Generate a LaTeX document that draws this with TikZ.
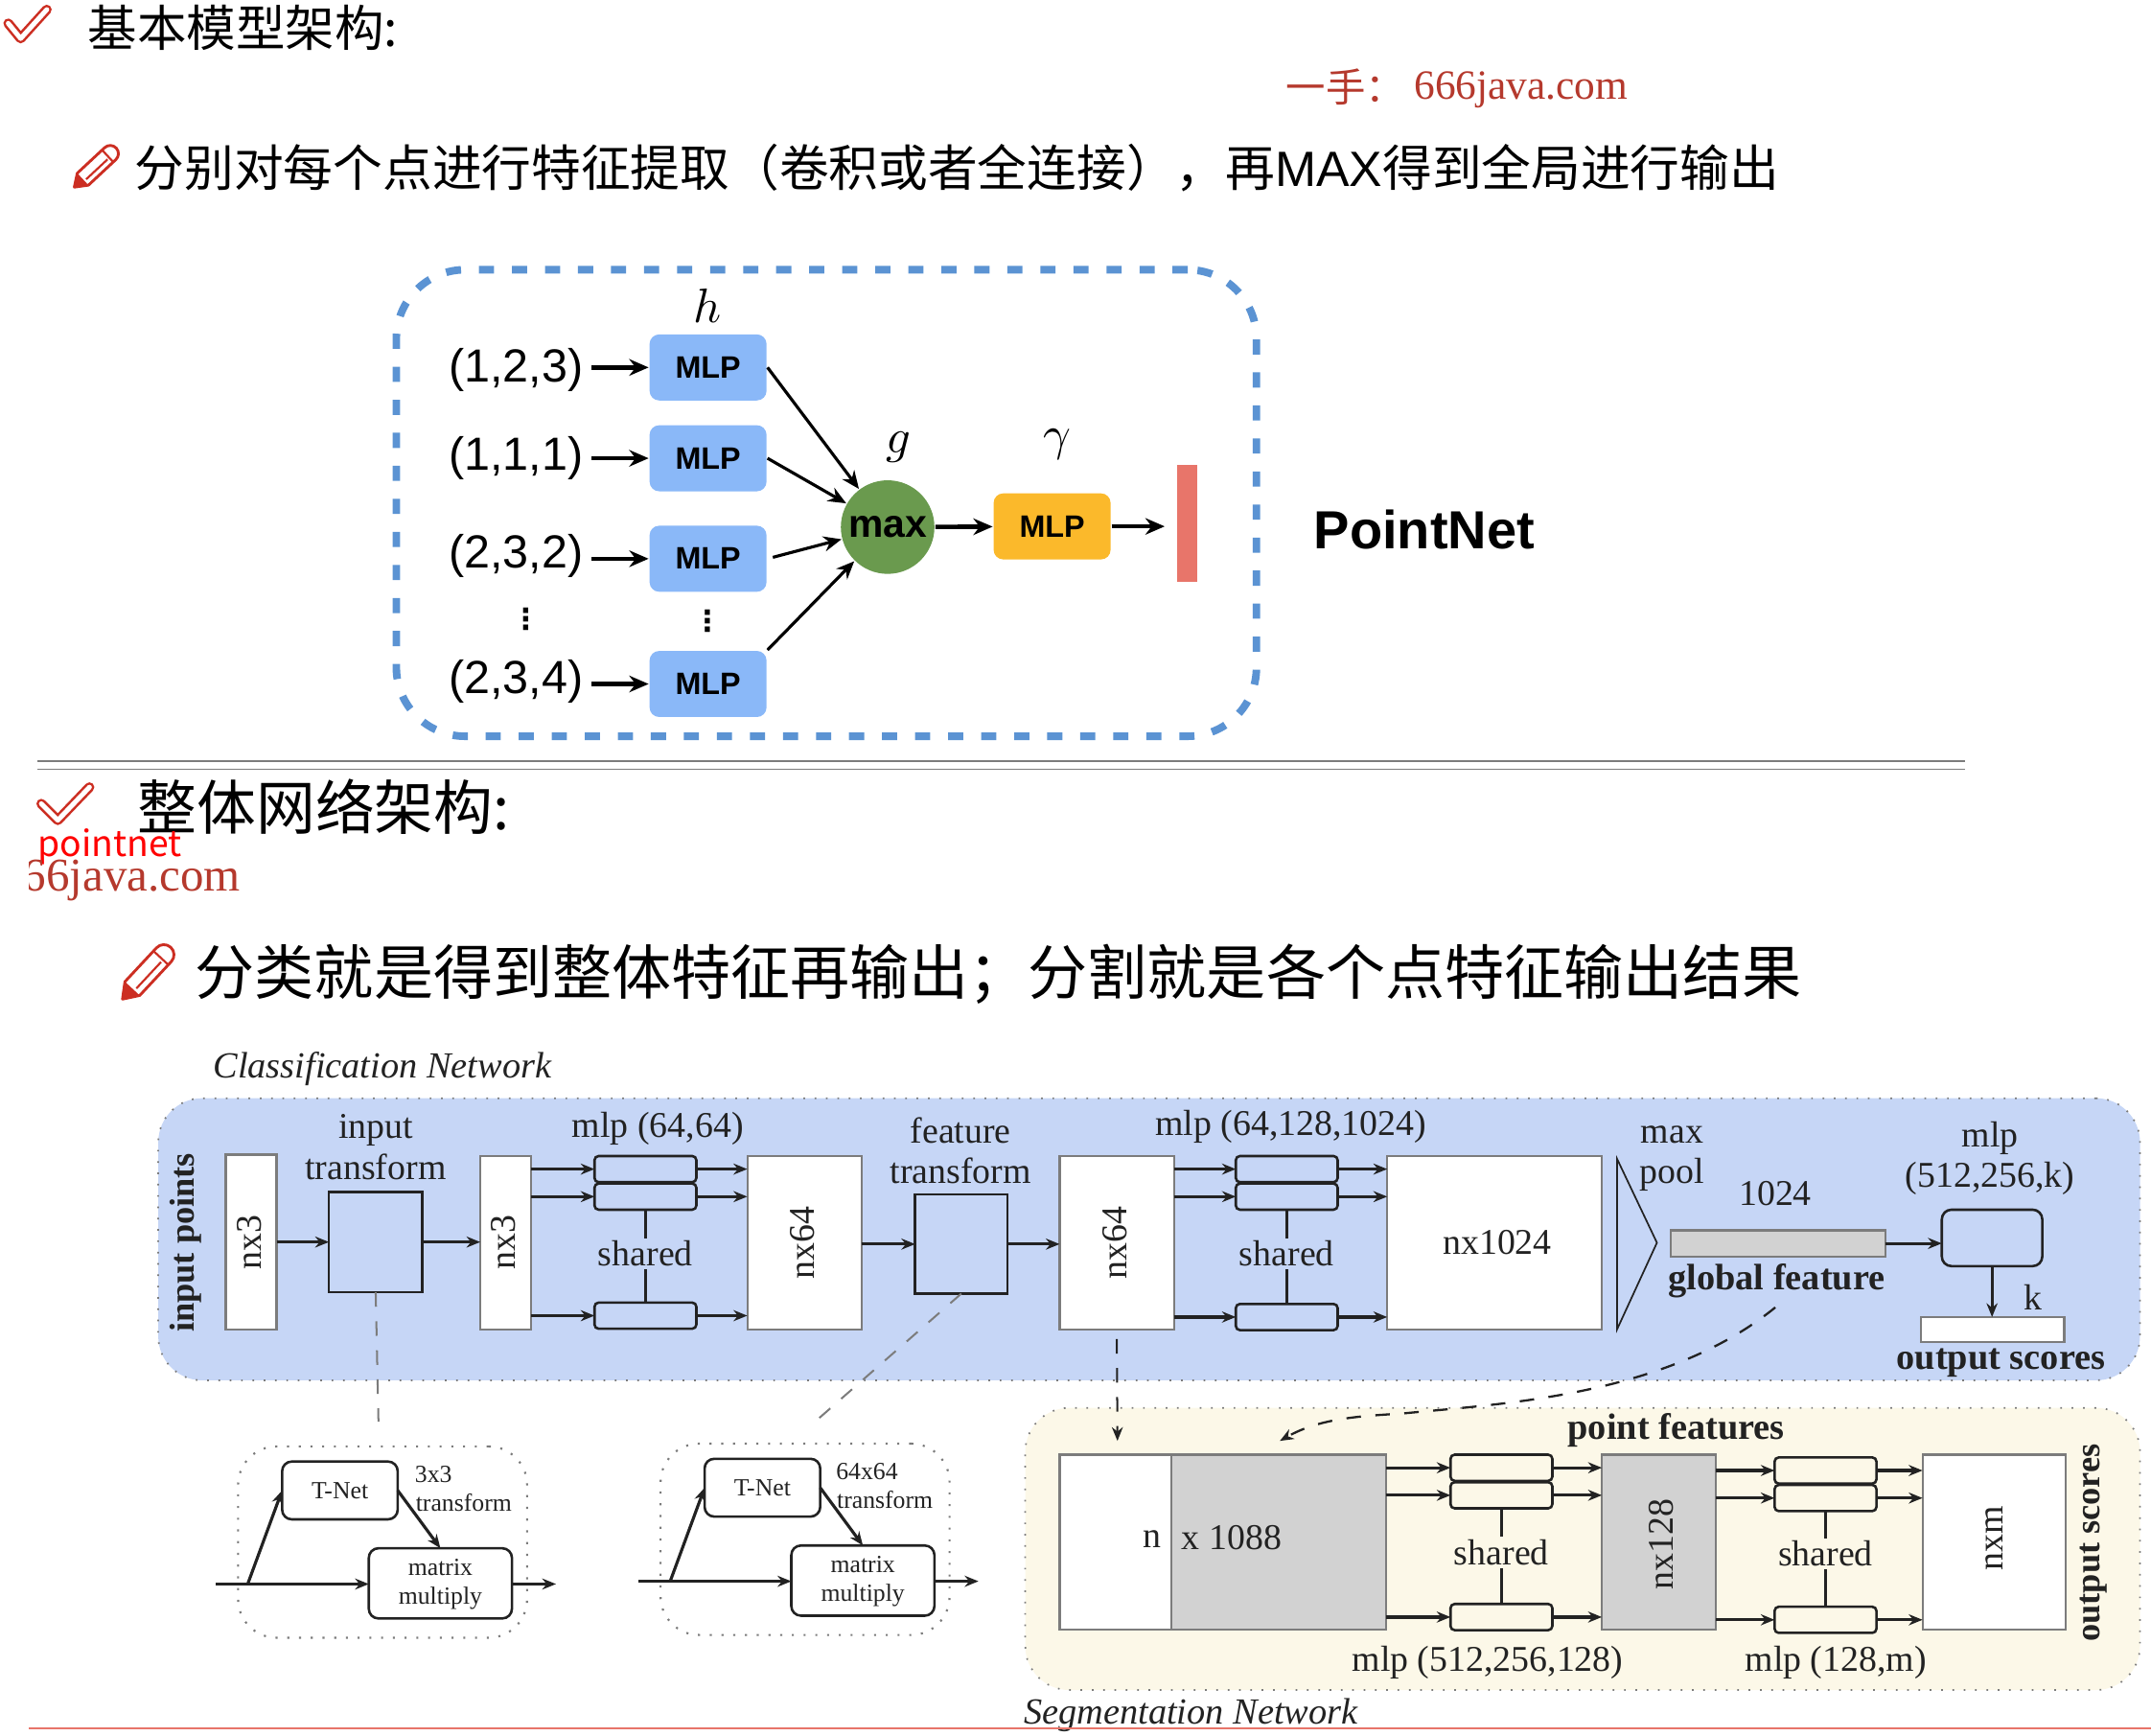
\documentclass[tikz,border=0pt]{standalone}
\usepackage{fontspec}
\usepackage{amsmath}
\setmainfont{Liberation Serif}
\setsansfont{Liberation Sans}
\newfontfamily\cjk{Noto Sans CJK SC}
\newfontfamily\symf{DejaVu Sans}
\usetikzlibrary{arrows.meta}
\definecolor{framecol}{HTML}{5B93D3}
\definecolor{mlpblue}{HTML}{8AB8F8}
\definecolor{mlpyellow}{HTML}{FBB92B}
\definecolor{maxgreen}{HTML}{6A9A4E}
\definecolor{barred}{HTML}{E8756A}
\definecolor{panelblue}{HTML}{C6D6F6}
\definecolor{panelcream}{HTML}{FCF8E8}
\definecolor{boxgray}{HTML}{D2D2D2}
\definecolor{edgegray}{HTML}{7C7C7C}
\definecolor{inkdark}{HTML}{222222}
\definecolor{iconred}{HTML}{CC2E22}
\definecolor{markred}{HTML}{B5392D}
\tikzset{
  sz/.style 2 args={minimum width=#1cm,minimum height=#2cm},
  txt/.style={inner sep=0,outer sep=0,text=inkdark,align=center,font=\fontsize{7.5}{8.4}\selectfont},
  boldtxt/.style={txt,font=\fontsize{7.6}{9}\selectfont\bfseries},
  sidetxt/.style={txt,rotate=90,font=\fontsize{7.2}{9}\selectfont\bfseries},
  tiny/.style={txt,font=\fontsize{5.1}{6}\selectfont},
  title/.style={inner sep=0,outer sep=0,anchor=west,text=black,font=\fontsize{#1}{#1}\selectfont\cjk},
  mlpbox/.style={draw=none,fill=mlpblue,rounded corners=0.07cm,inner sep=0,sz={0.85}{0.48},font=\fontsize{6.4}{7}\selectfont\sffamily\bfseries},
  tup/.style={inner sep=0,outer sep=0,font=\fontsize{9.6}{11}\selectfont\sffamily},
  vdot/.style={inner sep=0,font=\fontsize{6}{7}\selectfont\symf\bfseries},
  big/.style={-{Stealth[length=0.14cm,width=0.12cm]},line width=0.032cm,black},
  thin big/.style={-{Stealth[length=0.13cm,width=0.11cm]},line width=0.022cm,black},
  flow/.style={-{Stealth[length=0.1cm,width=0.08cm]},line width=0.022cm,inkdark},
  wbox/.style={draw=edgegray,fill=white,line width=0.015cm,inner sep=0,outer sep=0},
  gbox/.style={wbox,fill=boxgray},
  dbox/.style={draw=inkdark,line width=0.018cm,inner sep=0,outer sep=0},
  smbox/.style={dbox,rounded corners=0.03cm,sz={0.74}{0.19}},
  rbox/.style={dbox,rounded corners=0.07cm,fill=white},
  panel/.style={draw=edgegray,dotted,line width=0.012cm,inner sep=0,outer sep=0,rounded corners=0.32cm},
  link/.style={draw=edgegray,dashed,line width=0.014cm},
  bar line/.style={inkdark,line width=0.024cm},
  tickmark/.style={draw=iconred,double=white,line width=0.018cm,double distance=0.035cm,line join=round,line cap=round},
  pics/pencil/.style={code={
    \draw[iconred,fill=white,line width=0.02cm,line join=round] (0.1,-0.07) -- (0.42,-0.07) arc (-90:90:0.07) -- (0.1,0.07) -- (0,0) -- cycle;
    \draw[iconred,line width=0.015cm] (0.12,0.02) -- (0.37,0.02) (0.39,-0.07) -- (0.39,0.07);
    \fill[iconred] (0,0) -- (0.1,-0.07) -- (0.1,0.07) -- cycle;
  }},
}
\begin{document}
\begin{tikzpicture}[x=1cm,y=-1cm]
\useasboundingbox (0,0) rectangle (15.63,12.613);
% headings
\draw[tickmark] (0.06,0.17) -- (0.15,0.28) -- (0.34,0.07);
\node[title=10.2] (heada) at (0.64,0.2) {基本模型架构:};
\node[inner sep=0,anchor=west,text=markred,font=\fontsize{8.2}{9}\selectfont\cjk] (marka) at (9.34,0.63) {一手：};
\node[inner sep=0,anchor=west,text=markred,font=\fontsize{8.6}{10}\selectfont] (markb) at (10.27,0.65) {666java.com};
\pic[rotate=43,scale=0.85] at (0.54,1.36) {pencil};
\node[title=10.25] (headb) at (0.98,1.22) {分别对每个点进行特征提取（卷积或者全连接），再{\sffamily MAX}得到全局进行输出};
% PointNet block
\node[draw=framecol,dash pattern=on 0.11cm off 0.13cm,line width=0.055cm,rounded corners=0.5cm,inner sep=0,sz={6.25}{3.39}] (frame) at (6.005,3.655) {};
\node[mlpbox] (mlpa) at (5.145,2.67) {MLP};
\node[mlpbox] (mlpb) at (5.145,3.33) {MLP};
\node[mlpbox] (mlpc) at (5.145,4.06) {MLP};
\node[mlpbox] (mlpd) at (5.145,4.97) {MLP};
\node[tup] (ptsa) at (3.75,2.69) {(1,2,3)};
\node[tup] (ptsb) at (3.75,3.33) {(1,1,1)};
\node[tup] (ptsc) at (3.75,4.04) {(2,3,2)};
\node[tup] (ptsd) at (3.75,4.95) {(2,3,4)};
\node[vdot] (dotsa) at (3.82,4.5) {⋮};
\node[vdot] (dotsb) at (5.14,4.51) {⋮};
\node[inner sep=0,font=\fontsize{10}{11}\selectfont] (labh) at (5.14,2.22) {$h$};
\node[inner sep=0,font=\fontsize{10}{11}\selectfont] (labg) at (6.53,3.25) {$g$};
\node[inner sep=0,font=\fontsize{10}{11}\selectfont] (labc) at (7.68,3.23) {$\gamma$};
\node[circle,fill=maxgreen,inner sep=0,minimum size=0.68cm,font=\fontsize{8.1}{9}\selectfont\sffamily\bfseries] (maxn) at (6.45,3.83) {max};
\node[mlpbox,fill=mlpyellow] (mlpy) at (7.645,3.825) {MLP};
\node[fill=barred,inner sep=0,sz={0.15}{0.85}] (bar) at (8.625,3.805) {};
\node[inner sep=0,anchor=west,font=\fontsize{11.1}{13}\selectfont\sffamily\bfseries] (pnet) at (9.54,3.85) {PointNet};
\draw[big,shorten <=0.06cm] (ptsa.east |- mlpa.west) -- (mlpa.west);
\draw[big,shorten <=0.06cm] (ptsb.east |- mlpb.west) -- (mlpb.west);
\draw[big,shorten <=0.06cm] (ptsc.east |- mlpc.west) -- (mlpc.west);
\draw[big,shorten <=0.06cm] (ptsd.east |- mlpd.west) -- (mlpd.west);
\draw[thin big] (mlpa.east) -- (maxn);
\draw[thin big] (mlpb.east) -- (maxn);
\draw[thin big,shorten <=0.04cm] (mlpc.east) -- (maxn);
\draw[thin big] (mlpd.north east) -- (maxn);
\draw[big] (maxn) -- (mlpy);
\draw[big,shorten >=0.08cm] (mlpy.east) -- (bar.west |- mlpy.east);
% separators
\draw[edgegray,line width=0.01cm] (0.27,5.53) -- (14.28,5.53);
\draw[edgegray,line width=0.01cm] (0.27,5.59) -- (14.28,5.59);
\draw[tickmark] (0.3,5.84) -- (0.42,5.96) -- (0.65,5.72);
\node[title=12.25] (headc) at (1,5.86) {整体网络架构:};
\node[inner sep=0,anchor=west,text=red,font=\fontsize{7.4}{9}\selectfont\cjk] (wmark) at (0.27,6.15) {pointnet};
\begin{scope}
\clip (0.215,6.2) rectangle (2,6.7);
\node[inner sep=0,anchor=east,text=markred,font=\fontsize{9.7}{11}\selectfont] (markc) at (1.755,6.4) {666java.com};
\end{scope}
\pic[rotate=47,scale=1.05] at (0.89,7.26) {pencil};
\node[title=12.3] (headd) at (1.42,7.08) {分类就是得到整体特征再输出；分割就是各个点特征输出结果};
% panels
\node[panel,fill=panelblue,sz={14.4}{2.05}] (clsp) at (8.35,9.005) {};
\node[panel,fill=panelcream,sz={8.1}{2.05}] (segp) at (11.5,11.255) {};
\node[txt,font=\fontsize{7.6}{9}\selectfont\itshape,anchor=west] (clst) at (1.55,7.77) {Classification Network};
\node[txt,font=\fontsize{7.6}{9}\selectfont\itshape,anchor=west] (segt) at (7.44,12.46) {Segmentation Network};
% classification network
\node[sidetxt] (inpt) at (1.35,9.03) {input points};
\node[wbox,sz={0.37}{1.27}] (nxa) at (1.825,9.025) {};
\node[txt,rotate=90] (nxat) at (1.81,9.03) {nx3};
\node[txt] (itft) at (2.73,8.335) {input\\transform};
\node[dbox,sz={0.68}{0.73}] (itf) at (2.73,9.025) {};
\node[wbox,sz={0.37}{1.26}] (nxb) at (3.675,9.03) {};
\node[txt,rotate=90] (nxbt) at (3.66,9.03) {nx3};
\node[txt] (mlpt) at (4.78,8.2) {mlp (64,64)};
\node[smbox] (sa1) at (4.69,8.495) {};
\node[smbox] (sa2) at (4.69,8.695) {};
\node[smbox] (sa3) at (4.69,9.56) {};
\node[txt,fill=panelblue,inner ysep=0.02cm] (sha) at (4.69,9.11) {shared};
\node[wbox,sz={0.83}{1.26}] (nxc) at (5.845,9.03) {};
\node[txt,rotate=90] (nxct) at (5.83,9.03) {nx64};
\node[txt] (ftft) at (6.98,8.36) {feature\\transform};
\node[dbox,sz={0.67}{0.72}] (ftf) at (6.985,9.04) {};
\node[wbox,sz={0.83}{1.26}] (nxd) at (8.115,9.03) {};
\node[txt,rotate=90] (nxdt) at (8.1,9.03) {nx64};
\node[txt] (mlpu) at (9.38,8.19) {mlp (64,128,1024)};
\node[smbox] (sb1) at (9.35,8.495) {};
\node[smbox] (sb2) at (9.35,8.695) {};
\node[smbox] (sb3) at (9.35,9.57) {};
\node[txt,fill=panelblue,inner ysep=0.02cm] (shb) at (9.35,9.11) {shared};
\node[wbox,sz={1.56}{1.26}] (nxe) at (10.86,9.03) {};
\node[txt] (nxet) at (10.88,9.03) {nx1024};
\draw[inkdark,line width=0.012cm] (11.75,8.42) -- (12.04,9.03) -- (11.75,9.66) -- cycle;
\node[txt] (maxp) at (12.15,8.42) {max\\pool};
\node[txt] (numk) at (12.9,8.67) {1024};
\node[gbox,sz={1.56}{0.19}] (gfb) at (12.92,9.035) {};
\node[boldtxt] (gft) at (12.91,9.31) {global feature};
\node[txt] (mlpv) at (14.46,8.415) {mlp\\(512,256,k)};
\node[dbox,rounded corners=0.07cm,sz={0.73}{0.41}] (mlpk) at (14.475,8.995) {};
\node[txt] (labk) at (14.77,9.43) {k};
\node[wbox,sz={1.04}{0.18}] (outb) at (14.48,9.66) {};
\node[boldtxt] (outt) at (14.54,9.9) {output scores};
\draw[flow] (nxa.east |- itf.west) -- (itf.west);
\draw[flow] (itf.east) -- (nxb.west |- itf.east);
\draw[flow] (nxb.east |- sa1.west) -- (sa1.west);
\draw[flow] (nxb.east |- sa2.west) -- (sa2.west);
\draw[flow] (nxb.east |- sa3.west) -- (sa3.west);
\draw[flow] (sa1.east) -- (nxc.west |- sa1.east);
\draw[flow] (sa2.east) -- (nxc.west |- sa2.east);
\draw[flow] (sa3.east) -- (nxc.west |- sa3.east);
\draw[flow] (nxc.east |- ftf.west) -- (ftf.west);
\draw[flow] (ftf.east) -- (nxd.west |- ftf.east);
\draw[flow] (nxd.east |- sb1.west) -- (sb1.west);
\draw[flow] (nxd.east |- sb2.west) -- (sb2.west);
\draw[flow] (nxd.east |- sb3.west) -- (sb3.west);
\draw[flow] (sb1.east) -- (nxe.west |- sb1.east);
\draw[flow] (sb2.east) -- (nxe.west |- sb2.east);
\draw[flow] (sb3.east) -- (nxe.west |- sb3.east);
\draw[flow] (gfb.east) -- (mlpk.west |- gfb.east);
\draw[flow] (mlpk.south) -- (mlpk.south |- outb.north);
\draw[bar line] (sa2.south) -- (sha.north);
\draw[bar line] (sha.south) -- (sa3.north);
\draw[bar line] (sb2.south) -- (shb.north);
\draw[bar line] (shb.south) -- (sb3.north);
% transform blocks
\node[panel,line width=0.015cm,rounded corners=0.28cm,sz={2.1}{1.39}] (dota) at (2.78,11.205) {};
\node[rbox,sz={0.84}{0.42}] (tneta) at (2.47,10.83) {};
\node[tiny] (tnetat) at (2.47,10.83) {T-Net};
\node[rbox,sz={1.04}{0.51}] (mula) at (3.2,11.505) {};
\node[tiny] (mulat) at (3.2,11.51) {matrix\\multiply};
\node[tiny] (tra) at (3.15,10.71) {3x3};
\node[tiny] (trb) at (3.37,10.92) {transform};
\coordinate (ina) at (1.57,11.51);
\coordinate (bra) at (1.8,11.51);
\coordinate (outa) at (4.04,11.51);
\draw[flow] (ina) -- (mula.west |- ina);
\draw[flow] (bra) -- (tneta.west);
\draw[flow] (tneta.east) -- (mula.north);
\draw[flow] (mula.east |- outa) -- (outa);
\node[panel,line width=0.015cm,rounded corners=0.28cm,sz={2.1}{1.39}] (dotb) at (5.85,11.185) {};
\node[rbox,sz={0.84}{0.42}] (tnetb) at (5.54,10.81) {};
\node[tiny] (tnetbt) at (5.54,10.81) {T-Net};
\node[rbox,sz={1.04}{0.51}] (mulb) at (6.27,11.485) {};
\node[tiny] (mulbt) at (6.27,11.49) {matrix\\multiply};
\node[tiny] (trc) at (6.3,10.69) {64x64};
\node[tiny] (trd) at (6.43,10.9) {transform};
\coordinate (inb) at (4.64,11.49);
\coordinate (brb) at (4.87,11.49);
\coordinate (outc) at (7.11,11.49);
\draw[flow] (inb) -- (mulb.west |- inb);
\draw[flow] (brb) -- (tnetb.west);
\draw[flow] (tnetb.east) -- (mulb.north);
\draw[flow] (mulb.east |- outc) -- (outc);
% dashed links
\coordinate (dasha) at (2.75,10.33);
\coordinate (dashb) at (5.9,10.35);
\coordinate (segin) at (8.12,10.47);
\coordinate (segcv) at (9.3,10.47);
\coordinate (gfout) at (12.9,9.5);
\draw[link] (itf.south) -- (dasha);
\draw[link] (ftf.south) -- (dashb);
\draw[flow,dashed,line width=0.014cm] (nxd.south) ++(0,0.07) -- (segin);
\draw[flow,dashed,line width=0.016cm] (gfout) .. controls (12.1,10.15) and (10.9,10.2) .. (10.2,10.27) .. controls (9.9,10.29) and (9.6,10.3) .. (segcv);
% segmentation network
\node[boldtxt] (ptf) at (12.18,10.39) {point features};
\node[wbox,sz={0.81}{1.27}] (wseg) at (8.105,11.205) {};
\node[gbox,sz={1.56}{1.27}] (gseg) at (9.29,11.205) {};
\node[txt] (labn) at (8.37,11.18) {n};
\node[txt] (labx) at (8.95,11.17) {x 1088};
\node[smbox] (sc1) at (10.91,10.665) {};
\node[smbox] (sc2) at (10.91,10.865) {};
\node[smbox] (sc3) at (10.91,11.75) {};
\node[txt,fill=panelcream,inner ysep=0.02cm] (shc) at (10.91,11.28) {shared};
\node[gbox,sz={0.83}{1.27}] (nxf) at (12.055,11.205) {};
\node[txt,rotate=90] (nxft) at (12.07,11.22) {nx128};
\node[smbox] (sd1) at (13.265,10.685) {};
\node[smbox] (sd2) at (13.265,10.885) {};
\node[smbox] (sd3) at (13.265,11.77) {};
\node[txt,fill=panelcream,inner ysep=0.02cm] (shd) at (13.265,11.29) {shared};
\node[wbox,sz={1.04}{1.27}] (nxg) at (14.49,11.205) {};
\node[txt,rotate=90] (nxgt) at (14.49,11.18) {nxm};
\node[sidetxt] (outu) at (15.21,11.21) {output scores};
\node[txt] (mlpw) at (10.81,12.08) {mlp (512,256,128)};
\node[txt] (mlpx) at (13.34,12.08) {mlp (128,m)};
\draw[flow] (gseg.east |- sc1.west) -- (sc1.west);
\draw[flow] (gseg.east |- sc2.west) -- (sc2.west);
\draw[flow] (gseg.east |- sc3.west) -- (sc3.west);
\draw[flow] (sc1.east) -- (nxf.west |- sc1.east);
\draw[flow] (sc2.east) -- (nxf.west |- sc2.east);
\draw[flow] (sc3.east) -- (nxf.west |- sc3.east);
\draw[flow] (nxf.east |- sd1.west) -- (sd1.west);
\draw[flow] (nxf.east |- sd2.west) -- (sd2.west);
\draw[flow] (nxf.east |- sd3.west) -- (sd3.west);
\draw[flow] (sd1.east) -- (nxg.west |- sd1.east);
\draw[flow] (sd2.east) -- (nxg.west |- sd2.east);
\draw[flow] (sd3.east) -- (nxg.west |- sd3.east);
\draw[bar line] (sc2.south) -- (shc.north);
\draw[bar line] (shc.south) -- (sc3.north);
\draw[bar line] (sd2.south) -- (shd.north);
\draw[bar line] (shd.south) -- (sd3.north);
\draw[barred,line width=0.012cm] (0.21,12.56) -- (15.63,12.56);
\end{tikzpicture}
\end{document}
